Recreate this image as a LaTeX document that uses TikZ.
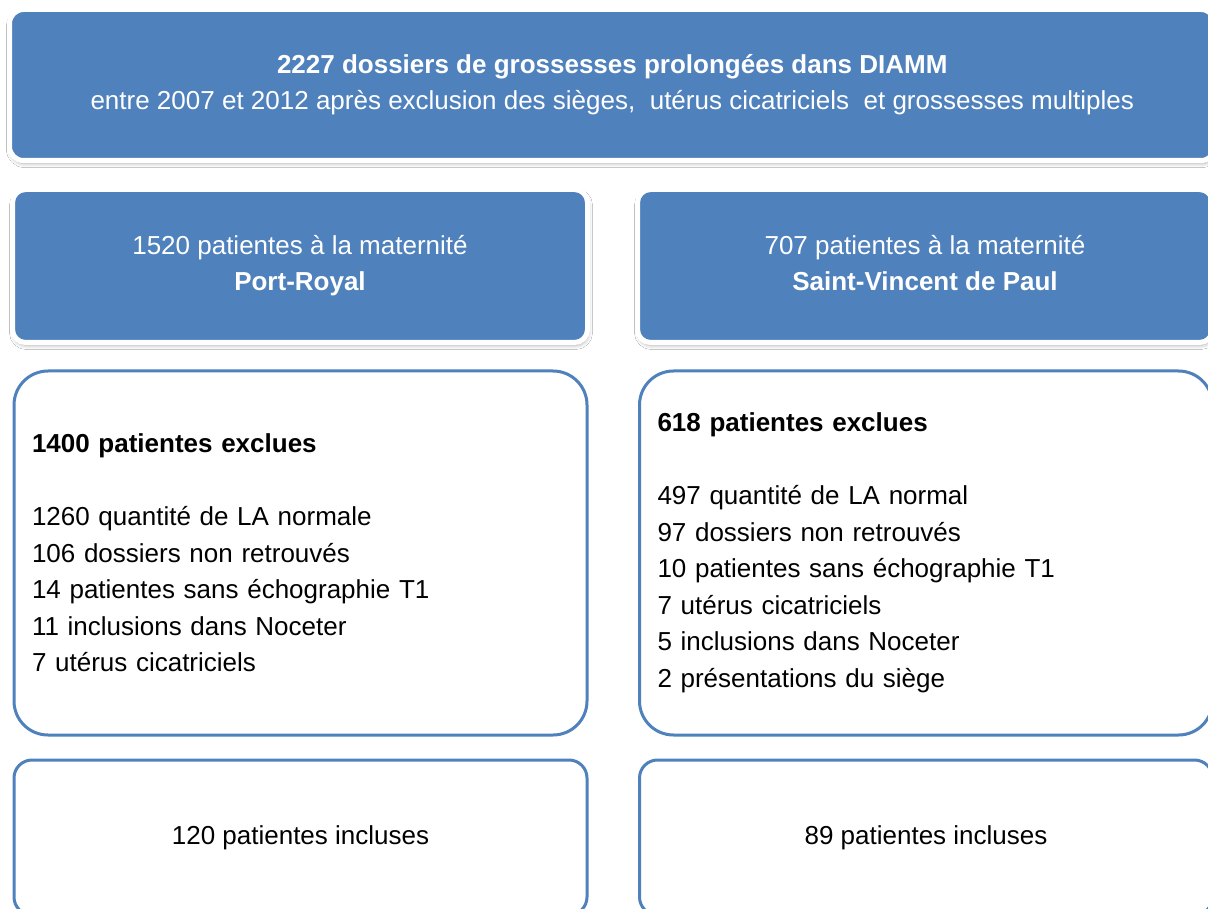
\documentclass[tikz,border=0pt]{standalone}
\usepackage{fontspec}
\setmainfont{Liberation Sans}
\usepackage{xcolor}
\usetikzlibrary{positioning,shadows.blur}
\definecolor{diamblue}{RGB}{79,129,189}
\tikzset{
  base/.style={align=center, font=\fontsize{26}{36.5}\selectfont, outer sep=0pt, inner sep=0pt},
  headbox/.style={base, rectangle, rounded corners=14pt, draw=white, line width=5pt, fill=diamblue, text=white, blur shadow={shadow xshift=1pt, shadow yshift=-3pt, shadow opacity=30, shadow blur radius=4pt, shadow blur steps=10}, execute at begin node=\rule{0pt}{30.5pt}, execute at end node=\rule[-6pt]{0pt}{6pt}, minimum width=1205.5pt, minimum height=151pt},
  sitebox/.style={headbox, rounded corners=13pt, minimum width=575pt, minimum height=153pt},
  exclbox/.style={base, align=left, rectangle, rounded corners=34pt, draw=diamblue, line width=3pt, fill=white, text=black, text width=537pt, inner xsep=18pt, minimum width=573pt, minimum height=364pt},
  inclbox/.style={base, rectangle, rounded corners=18pt, draw=diamblue, line width=3pt, fill=white, text=black, minimum width=573pt, minimum height=155pt}
}

\begin{document}
\begin{tikzpicture}[x=1pt, y=-1pt]
  \useasboundingbox[fill=white] (0,0) rectangle (1208,909);

  % Top: all records
  \node[headbox, anchor=north west] (total) at (9.5,9.5) {\textbf{2227 dossiers de grossesses prolongées dans DIAMM}\\entre 2007 et 2012 après exclusion des sièges,\ \ utérus cicatriciels\ \ et grossesses multiples};

  % Row 1: maternities
  \node[sitebox, below=29pt of total.south west, anchor=north west, xshift=3pt] (portroyal) {1520 patientes à la maternité\\\textbf{Port-Royal}};
  \node[sitebox, right=50pt of portroyal] (stvincent) {707 patientes à la maternité\\\textbf{Saint-Vincent de Paul}};

  % Row 2: exclusions
  \node[exclbox, below=28.5pt of portroyal.south west, anchor=north west, xshift=1.5pt] (exclpr) {\textbf{1400 patientes exclues}\\[36.5pt]
    1260 quantité de LA normale\\
    106 dossiers non retrouvés\\
    14 patientes sans échographie T1\\
    11 inclusions dans Noceter\\
    7 utérus cicatriciels};
  \node[exclbox, right=52.5pt of exclpr] (exclsvp) {\textbf{618 patientes exclues}\\[36.5pt]
    497 quantité de LA normal\\
    97 dossiers non retrouvés\\
    10 patientes sans échographie T1\\
    7 utérus cicatriciels\\
    5 inclusions dans Noceter\\
    2 présentations du siège};

  % Row 3: inclusions
  \node[inclbox, below=25pt of exclpr] (inclpr) {120 patientes incluses};
  \node[inclbox, right=52.5pt of inclpr] (inclsvp) {89 patientes incluses};

\end{tikzpicture}
\end{document}
